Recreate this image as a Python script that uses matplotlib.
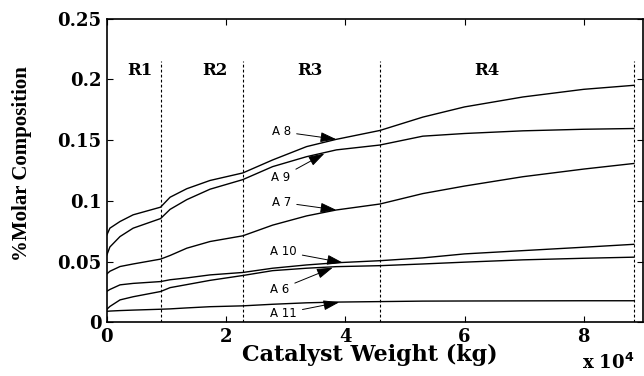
import matplotlib.pyplot as plt
import numpy as np

# catalyst weight (kg) and molar composition (%)
weight = np.array([0, 0.05, 0.22, 0.44, 0.9, 1.06, 1.34, 1.73, 2.28, 2.78,
                   3.35, 3.85, 4.58, 5.3, 6.0, 6.98, 8.0, 8.84]) * 1e4

a8 = [0.072, 0.0775, 0.083, 0.0885, 0.0948, 0.103, 0.110, 0.1168, 0.123, 0.1337,
      0.1447, 0.1507, 0.158, 0.169, 0.1774, 0.1856, 0.1919, 0.1952]
a9 = [0.0555, 0.062, 0.0706, 0.0775, 0.0854, 0.093, 0.101, 0.1096, 0.1175, 0.1282,
      0.1364, 0.142, 0.146, 0.1533, 0.1555, 0.1577, 0.159, 0.1596]
a7 = [0.0398, 0.042, 0.0459, 0.048, 0.052, 0.055, 0.061, 0.0665, 0.0712, 0.080,
      0.0876, 0.0925, 0.0974, 0.106, 0.1122, 0.1199, 0.1262, 0.1308]
a10 = [0.0255, 0.027, 0.0308, 0.032, 0.0335, 0.035, 0.0365, 0.039, 0.041, 0.0445,
       0.0472, 0.049, 0.0507, 0.053, 0.0563, 0.059, 0.0618, 0.0642]
a6 = [0.0107, 0.013, 0.0184, 0.021, 0.0253, 0.0285, 0.031, 0.0345, 0.0385, 0.0425,
      0.0445, 0.0458, 0.0466, 0.048, 0.0495, 0.0514, 0.0527, 0.0536]
a11 = [0.009, 0.0092, 0.0096, 0.010, 0.0107, 0.011, 0.0118, 0.0128, 0.0135, 0.0148,
       0.016, 0.0166, 0.017, 0.0174, 0.0175, 0.0176, 0.0177, 0.0177]

# reactor boundaries and region labels
bounds = [0.90e4, 2.28e4, 4.58e4, 8.84e4]
regions = ["R1", "R2", "R3", "R4"]
region_x = [0.56e4, 1.81e4, 3.4e4, 6.37e4]

# annotations: label, text position, arrow tip
notes = [("A 8", (2.77e4, 0.157), (3.85e4, 0.1507)),
         ("A 9", (2.76e4, 0.1194), (3.65e4, 0.139)),
         ("A 7", (2.77e4, 0.0988), (3.85e4, 0.0925)),
         ("A 10", (2.74e4, 0.0582), (3.96e4, 0.049)),
         ("A 6", (2.74e4, 0.0272), (3.79e4, 0.045)),
         ("A 11", (2.74e4, 0.0074), (3.9e4, 0.0165))]

serif = "DejaVu Serif"

fig = plt.figure(figsize=(6.44, 3.76), dpi=100)
ax = fig.add_axes([0.166, 0.143, 0.833, 0.807])

for y in [a8, a9, a7, a10, a6, a11]:
    ax.plot(weight, y, color="k", lw=1.0)

for b in bounds:
    ax.plot([b, b], [0, 0.215], color="k", lw=0.8, ls=(0, (2.5, 2)))

for r, rx in zip(regions, region_x):
    ax.text(rx, 0.207, r, ha="center", va="center", fontsize=12,
            fontweight="bold", family=serif)

for lab, xyt, xy in notes:
    ax.annotate(lab, xy=xy, xytext=xyt, fontsize=8.5, family="DejaVu Sans",
                va="center", ha="left",
                arrowprops=dict(arrowstyle="-|>,head_length=0.7,head_width=0.22",
                                color="k", lw=0.7, mutation_scale=14,
                                shrinkA=2, shrinkB=0))

ax.set_xlim(0, 9e4)
ax.set_ylim(0, 0.25)
ax.set_xticks([0, 2e4, 4e4, 6e4, 8e4])
ax.set_xticklabels(["0", "2", "4", "6", "8"])
ax.set_yticks([0, 0.05, 0.1, 0.15, 0.2, 0.25])
ax.set_yticklabels(["0", "0.05", "0.1", "0.15", "0.2", "0.25"])
ax.tick_params(direction="in", length=4, width=0.8, top=True, right=True, pad=4)
for t in ax.get_xticklabels() + ax.get_yticklabels():
    t.set_fontfamily(serif)
    t.set_fontweight("bold")
    t.set_fontsize(13)
for s in ax.spines.values():
    s.set_linewidth(1.2)

fig.text(0.575, 0.055, "Catalyst Weight (kg)", ha="center", va="center",
         fontsize=16, fontweight="bold", family=serif)
fig.text(0.945, 0.035, r"x 10$^{\mathbf{4}}$", ha="center", va="center",
         fontsize=13, fontweight="bold", family=serif)
fig.text(0.034, 0.566, "%Molar Composition", ha="center", va="center",
         rotation=90, fontsize=15, fontweight="bold", family="Liberation Serif")

plt.savefig("out.png", dpi=100)
